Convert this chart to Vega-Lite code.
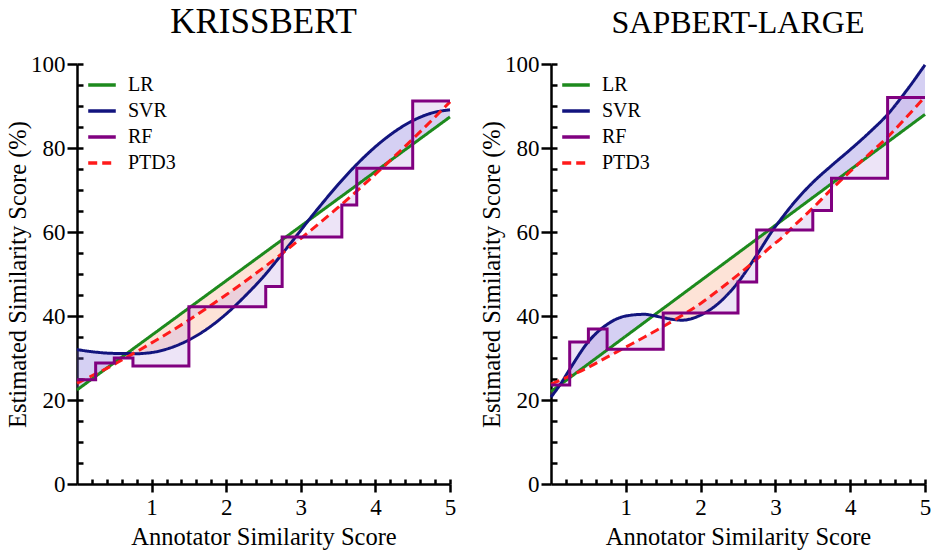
{
  "$schema": "https://vega.github.io/schema/vega-lite/v6.json",
  "description": "Estimated vs annotator similarity score for LR, SVR, RF and PTD3",
  "padding": 5,
  "datasets": {
    "smooth": [
      {"panel": "KRISSBERT", "x": 0, "LR": 22.4, "SVR": 32.0, "PTD3": 24.0},
      {"panel": "KRISSBERT", "x": 0.25, "LR": 25.65, "SVR": 31.4, "PTD3": 26.2},
      {"panel": "KRISSBERT", "x": 0.5, "LR": 28.9, "SVR": 31.1, "PTD3": 28.5},
      {"panel": "KRISSBERT", "x": 0.67, "LR": 31.1, "SVR": 31.1, "PTD3": 30.2},
      {"panel": "KRISSBERT", "x": 0.75, "LR": 32.15, "SVR": 31.0, "PTD3": 31.0},
      {"panel": "KRISSBERT", "x": 1.0, "LR": 35.4, "SVR": 31.3, "PTD3": 33.6},
      {"panel": "KRISSBERT", "x": 1.25, "LR": 38.65, "SVR": 32.4, "PTD3": 36.25},
      {"panel": "KRISSBERT", "x": 1.5, "LR": 41.9, "SVR": 34.3, "PTD3": 39.05},
      {"panel": "KRISSBERT", "x": 1.75, "LR": 45.15, "SVR": 37.0, "PTD3": 42.0},
      {"panel": "KRISSBERT", "x": 2.0, "LR": 48.4, "SVR": 40.5, "PTD3": 45.05},
      {"panel": "KRISSBERT", "x": 2.25, "LR": 51.65, "SVR": 44.7, "PTD3": 48.2},
      {"panel": "KRISSBERT", "x": 2.5, "LR": 54.9, "SVR": 49.4, "PTD3": 51.5},
      {"panel": "KRISSBERT", "x": 2.75, "LR": 58.15, "SVR": 54.8, "PTD3": 54.9},
      {"panel": "KRISSBERT", "x": 3.0, "LR": 61.4, "SVR": 60.4, "PTD3": 58.45},
      {"panel": "KRISSBERT", "x": 3.1, "LR": 62.7, "SVR": 62.7, "PTD3": 59.9},
      {"panel": "KRISSBERT", "x": 3.25, "LR": 64.65, "SVR": 66.0, "PTD3": 62.1},
      {"panel": "KRISSBERT", "x": 3.5, "LR": 67.9, "SVR": 71.3, "PTD3": 65.85},
      {"panel": "KRISSBERT", "x": 3.75, "LR": 71.15, "SVR": 76.1, "PTD3": 69.75},
      {"panel": "KRISSBERT", "x": 4.0, "LR": 74.4, "SVR": 80.3, "PTD3": 73.75},
      {"panel": "KRISSBERT", "x": 4.25, "LR": 77.65, "SVR": 83.8, "PTD3": 77.9},
      {"panel": "KRISSBERT", "x": 4.5, "LR": 80.9, "SVR": 86.5, "PTD3": 82.15},
      {"panel": "KRISSBERT", "x": 4.75, "LR": 84.15, "SVR": 88.3, "PTD3": 86.5},
      {"panel": "KRISSBERT", "x": 5.0, "LR": 87.4, "SVR": 89.1, "PTD3": 91.0},
      {"panel": "SapBERT-large", "x": 0, "LR": 22.0, "SVR": 20.7, "PTD3": 23.8},
      {"panel": "SapBERT-large", "x": 0.12, "LR": 23.6, "SVR": 23.6, "PTD3": 24.7},
      {"panel": "SapBERT-large", "x": 0.25, "LR": 25.3, "SVR": 27.3, "PTD3": 25.7},
      {"panel": "SapBERT-large", "x": 0.5, "LR": 28.6, "SVR": 33.9, "PTD3": 27.8},
      {"panel": "SapBERT-large", "x": 0.75, "LR": 31.9, "SVR": 38.0, "PTD3": 30.2},
      {"panel": "SapBERT-large", "x": 1.0, "LR": 35.2, "SVR": 40.0, "PTD3": 32.6},
      {"panel": "SapBERT-large", "x": 1.25, "LR": 38.5, "SVR": 40.4, "PTD3": 35.0},
      {"panel": "SapBERT-large", "x": 1.37, "LR": 40.1, "SVR": 40.1, "PTD3": 36.2},
      {"panel": "SapBERT-large", "x": 1.5, "LR": 41.8, "SVR": 39.6, "PTD3": 37.5},
      {"panel": "SapBERT-large", "x": 1.75, "LR": 45.1, "SVR": 39.0, "PTD3": 40.1},
      {"panel": "SapBERT-large", "x": 2.0, "LR": 48.4, "SVR": 40.2, "PTD3": 43.0},
      {"panel": "SapBERT-large", "x": 2.25, "LR": 51.7, "SVR": 43.2, "PTD3": 46.3},
      {"panel": "SapBERT-large", "x": 2.5, "LR": 55.0, "SVR": 48.0, "PTD3": 49.8},
      {"panel": "SapBERT-large", "x": 2.75, "LR": 58.3, "SVR": 54.5, "PTD3": 53.5},
      {"panel": "SapBERT-large", "x": 3.0, "LR": 61.6, "SVR": 61.3, "PTD3": 57.4},
      {"panel": "SapBERT-large", "x": 3.03, "LR": 62.0, "SVR": 62.0, "PTD3": 57.8},
      {"panel": "SapBERT-large", "x": 3.25, "LR": 64.9, "SVR": 67.0, "PTD3": 61.5},
      {"panel": "SapBERT-large", "x": 3.5, "LR": 68.2, "SVR": 71.8, "PTD3": 65.7},
      {"panel": "SapBERT-large", "x": 3.75, "LR": 71.5, "SVR": 75.8, "PTD3": 70.2},
      {"panel": "SapBERT-large", "x": 4.0, "LR": 74.8, "SVR": 79.6, "PTD3": 74.4},
      {"panel": "SapBERT-large", "x": 4.25, "LR": 78.1, "SVR": 83.6, "PTD3": 78.5},
      {"panel": "SapBERT-large", "x": 4.5, "LR": 81.4, "SVR": 88.0, "PTD3": 82.6},
      {"panel": "SapBERT-large", "x": 4.75, "LR": 84.7, "SVR": 93.6, "PTD3": 87.3},
      {"panel": "SapBERT-large", "x": 5.0, "LR": 88.0, "SVR": 99.8, "PTD3": 92.2}
    ],
    "rf": [
      {"panel": "KRISSBERT", "x": 0, "RF": 24.8, "PTD3": 24.0},
      {"panel": "KRISSBERT", "x": 0.25, "RF": 24.8, "PTD3": 26.2},
      {"panel": "KRISSBERT", "x": 0.25, "RF": 28.8, "PTD3": 26.2},
      {"panel": "KRISSBERT", "x": 0.5, "RF": 28.8, "PTD3": 28.5},
      {"panel": "KRISSBERT", "x": 0.5, "RF": 30.0, "PTD3": 28.5},
      {"panel": "KRISSBERT", "x": 0.75, "RF": 30.0, "PTD3": 31.0},
      {"panel": "KRISSBERT", "x": 0.75, "RF": 28.1, "PTD3": 31.0},
      {"panel": "KRISSBERT", "x": 1.125, "RF": 28.1, "PTD3": 34.9},
      {"panel": "KRISSBERT", "x": 1.5, "RF": 28.1, "PTD3": 39.05},
      {"panel": "KRISSBERT", "x": 1.5, "RF": 42.2, "PTD3": 39.05},
      {"panel": "KRISSBERT", "x": 2.0, "RF": 42.2, "PTD3": 45.05},
      {"panel": "KRISSBERT", "x": 2.53, "RF": 42.2, "PTD3": 51.9},
      {"panel": "KRISSBERT", "x": 2.53, "RF": 47.0, "PTD3": 51.9},
      {"panel": "KRISSBERT", "x": 2.75, "RF": 47.0, "PTD3": 54.9},
      {"panel": "KRISSBERT", "x": 2.75, "RF": 58.8, "PTD3": 54.9},
      {"panel": "KRISSBERT", "x": 3.15, "RF": 58.8, "PTD3": 60.6},
      {"panel": "KRISSBERT", "x": 3.55, "RF": 58.8, "PTD3": 66.6},
      {"panel": "KRISSBERT", "x": 3.55, "RF": 66.4, "PTD3": 66.6},
      {"panel": "KRISSBERT", "x": 3.75, "RF": 66.4, "PTD3": 69.75},
      {"panel": "KRISSBERT", "x": 3.75, "RF": 75.2, "PTD3": 69.75},
      {"panel": "KRISSBERT", "x": 4.125, "RF": 75.2, "PTD3": 75.8},
      {"panel": "KRISSBERT", "x": 4.5, "RF": 75.2, "PTD3": 82.15},
      {"panel": "KRISSBERT", "x": 4.5, "RF": 91.2, "PTD3": 82.15},
      {"panel": "KRISSBERT", "x": 4.75, "RF": 91.2, "PTD3": 86.5},
      {"panel": "KRISSBERT", "x": 5.0, "RF": 91.2, "PTD3": 91.0},
      {"panel": "SapBERT-large", "x": 0, "RF": 23.6, "PTD3": 23.8},
      {"panel": "SapBERT-large", "x": 0.25, "RF": 23.6, "PTD3": 25.7},
      {"panel": "SapBERT-large", "x": 0.25, "RF": 33.8, "PTD3": 25.7},
      {"panel": "SapBERT-large", "x": 0.5, "RF": 33.8, "PTD3": 27.8},
      {"panel": "SapBERT-large", "x": 0.5, "RF": 36.9, "PTD3": 27.8},
      {"panel": "SapBERT-large", "x": 0.75, "RF": 36.9, "PTD3": 30.2},
      {"panel": "SapBERT-large", "x": 0.75, "RF": 32.1, "PTD3": 30.2},
      {"panel": "SapBERT-large", "x": 1.125, "RF": 32.1, "PTD3": 33.8},
      {"panel": "SapBERT-large", "x": 1.5, "RF": 32.1, "PTD3": 37.5},
      {"panel": "SapBERT-large", "x": 1.5, "RF": 40.7, "PTD3": 37.5},
      {"panel": "SapBERT-large", "x": 2.0, "RF": 40.7, "PTD3": 43.0},
      {"panel": "SapBERT-large", "x": 2.5, "RF": 40.7, "PTD3": 49.8},
      {"panel": "SapBERT-large", "x": 2.5, "RF": 48.1, "PTD3": 49.8},
      {"panel": "SapBERT-large", "x": 2.75, "RF": 48.1, "PTD3": 53.5},
      {"panel": "SapBERT-large", "x": 2.75, "RF": 60.5, "PTD3": 53.5},
      {"panel": "SapBERT-large", "x": 3.125, "RF": 60.5, "PTD3": 59.4},
      {"panel": "SapBERT-large", "x": 3.5, "RF": 60.5, "PTD3": 65.7},
      {"panel": "SapBERT-large", "x": 3.5, "RF": 65.1, "PTD3": 65.7},
      {"panel": "SapBERT-large", "x": 3.75, "RF": 65.1, "PTD3": 70.2},
      {"panel": "SapBERT-large", "x": 3.75, "RF": 72.8, "PTD3": 70.2},
      {"panel": "SapBERT-large", "x": 4.125, "RF": 72.8, "PTD3": 76.4},
      {"panel": "SapBERT-large", "x": 4.5, "RF": 72.8, "PTD3": 82.6},
      {"panel": "SapBERT-large", "x": 4.5, "RF": 92.0, "PTD3": 82.6},
      {"panel": "SapBERT-large", "x": 4.75, "RF": 92.0, "PTD3": 87.3},
      {"panel": "SapBERT-large", "x": 5.0, "RF": 92.0, "PTD3": 92.2}
    ]
  },
  "spacing": 23,
  "hconcat": [
    {
      "width": 373,
      "height": 420,
      "title": {"text": "KRISSBERT", "fontSize": 35},
      "layer": [
        {
          "data": {"name": "smooth"},
          "transform": [{"filter": "datum.panel === 'KRISSBERT'"}, {"filter": "datum.SVR >= datum.LR"}],
          "mark": {"type": "area", "color": "#7565d6", "opacity": 0.3},
          "encoding": {
            "x": {
              "field": "x",
              "type": "quantitative",
              "title": "Annotator Similarity Score",
              "scale": {"domain": [0, 5]},
              "axis": {"values": [1, 2, 3, 4, 5], "format": "d", "tickSize": 8, "labelPadding": 4, "titlePadding": 6}
            },
            "y": {
              "field": "SVR",
              "type": "quantitative",
              "title": "Estimated Similarity Score (%)",
              "scale": {"domain": [0, 100]},
              "axis": {"values": [0, 20, 40, 60, 80, 100], "tickSize": 10, "labelPadding": 2, "titlePadding": 0}
            },
            "y2": {"field": "LR"}
          }
        },
        {
          "data": {"name": "smooth"},
          "transform": [{"filter": "datum.panel === 'KRISSBERT'"}, {"filter": "datum.SVR <= datum.LR"}],
          "mark": {"type": "area", "color": "#f7a27c", "opacity": 0.3},
          "encoding": {
            "x": {"field": "x", "type": "quantitative", "scale": {"domain": [0, 5]}, "axis": null},
            "y": {"field": "SVR", "type": "quantitative", "scale": {"domain": [0, 100]}, "axis": null},
            "y2": {"field": "LR"}
          }
        },
        {
          "data": {"name": "rf"},
          "transform": [{"filter": "datum.panel === 'KRISSBERT'"}],
          "mark": {"type": "area", "color": "#c2a4e6", "opacity": 0.3},
          "encoding": {
            "x": {
              "field": "x",
              "type": "quantitative",
              "scale": {"domain": [0, 5]},
              "axis": {"orient": "top", "offset": -420, "title": null, "labels": false, "domain": false, "tickSize": 5,
                "values": [0.2, 0.4, 0.6, 0.8, 1, 1.2, 1.4, 1.6, 1.8, 2, 2.2, 2.4, 2.6, 2.8, 3, 3.2, 3.4, 3.6, 3.8, 4, 4.2, 4.4, 4.6, 4.8, 5]}
            },
            "y": {
              "field": "RF",
              "type": "quantitative",
              "scale": {"domain": [0, 100]},
              "axis": {"orient": "right", "offset": -373, "title": null, "labels": false, "domain": false, "tickSize": 6,
                "values": [5, 10, 15, 20, 25, 30, 35, 40, 45, 50, 55, 60, 65, 70, 75, 80, 85, 90, 95, 100]}
            },
            "y2": {"field": "PTD3"}
          }
        },
        {
          "data": {"name": "smooth"},
          "transform": [{"filter": "datum.panel === 'KRISSBERT'"}, {"fold": ["LR", "SVR", "PTD3"], "as": ["model", "y"]}],
          "mark": {"type": "line", "strokeWidth": 3, "interpolate": "monotone"},
          "encoding": {
            "x": {"field": "x", "type": "quantitative", "scale": {"domain": [0, 5]}, "axis": null},
            "y": {"field": "y", "type": "quantitative", "scale": {"domain": [0, 100]}, "axis": null},
            "color": {
              "field": "model",
              "type": "nominal",
              "scale": {"domain": ["LR", "SVR", "RF", "PTD3"], "range": ["#1d8a1d", "#12147e", "#800080", "#ff1a1a"]},
              "legend": {"title": null, "orient": "none", "legendX": 9, "legendY": 5}
            },
            "strokeDash": {
              "field": "model",
              "type": "nominal",
              "scale": {"domain": ["LR", "SVR", "RF", "PTD3"], "range": [[1, 0], [1, 0], [1, 0], [9, 5]]},
              "legend": {"title": null, "orient": "none", "legendX": 9, "legendY": 5}
            }
          }
        },
        {
          "data": {"name": "rf"},
          "transform": [{"filter": "datum.panel === 'KRISSBERT'"}],
          "mark": {"type": "line", "strokeWidth": 3, "color": "#800080"},
          "encoding": {
            "x": {"field": "x", "type": "quantitative", "scale": {"domain": [0, 5]}, "axis": null},
            "y": {"field": "RF", "type": "quantitative", "scale": {"domain": [0, 100]}, "axis": null}
          }
        }
      ],
      "resolve": {"axis": {"x": "independent", "y": "independent"}}
    },
    {
      "width": 374,
      "height": 420,
      "title": {"text": "SAPBERT-LARGE", "fontSize": 32},
      "layer": [
        {
          "data": {"name": "smooth"},
          "transform": [{"filter": "datum.panel === 'SapBERT-large'"}, {"filter": "datum.SVR >= datum.LR"}],
          "mark": {"type": "area", "color": "#7565d6", "opacity": 0.3},
          "encoding": {
            "x": {
              "field": "x",
              "type": "quantitative",
              "title": "Annotator Similarity Score",
              "scale": {"domain": [0, 5]},
              "axis": {"values": [1, 2, 3, 4, 5], "format": "d", "tickSize": 8, "labelPadding": 4, "titlePadding": 6}
            },
            "y": {
              "field": "SVR",
              "type": "quantitative",
              "title": "Estimated Similarity Score (%)",
              "scale": {"domain": [0, 100]},
              "axis": {"values": [0, 20, 40, 60, 80, 100], "tickSize": 10, "labelPadding": 2, "titlePadding": 0}
            },
            "y2": {"field": "LR"}
          }
        },
        {
          "data": {"name": "smooth"},
          "transform": [{"filter": "datum.panel === 'SapBERT-large'"}, {"filter": "datum.SVR <= datum.LR"}],
          "mark": {"type": "area", "color": "#f7a27c", "opacity": 0.3},
          "encoding": {
            "x": {"field": "x", "type": "quantitative", "scale": {"domain": [0, 5]}, "axis": null},
            "y": {"field": "SVR", "type": "quantitative", "scale": {"domain": [0, 100]}, "axis": null},
            "y2": {"field": "LR"}
          }
        },
        {
          "data": {"name": "rf"},
          "transform": [{"filter": "datum.panel === 'SapBERT-large'"}],
          "mark": {"type": "area", "color": "#c2a4e6", "opacity": 0.3},
          "encoding": {
            "x": {
              "field": "x",
              "type": "quantitative",
              "scale": {"domain": [0, 5]},
              "axis": {"orient": "top", "offset": -420, "title": null, "labels": false, "domain": false, "tickSize": 5,
                "values": [0.2, 0.4, 0.6, 0.8, 1, 1.2, 1.4, 1.6, 1.8, 2, 2.2, 2.4, 2.6, 2.8, 3, 3.2, 3.4, 3.6, 3.8, 4, 4.2, 4.4, 4.6, 4.8, 5]}
            },
            "y": {
              "field": "RF",
              "type": "quantitative",
              "scale": {"domain": [0, 100]},
              "axis": {"orient": "right", "offset": -374, "title": null, "labels": false, "domain": false, "tickSize": 6,
                "values": [5, 10, 15, 20, 25, 30, 35, 40, 45, 50, 55, 60, 65, 70, 75, 80, 85, 90, 95, 100]}
            },
            "y2": {"field": "PTD3"}
          }
        },
        {
          "data": {"name": "smooth"},
          "transform": [{"filter": "datum.panel === 'SapBERT-large'"}, {"fold": ["LR", "SVR", "PTD3"], "as": ["model", "y"]}],
          "mark": {"type": "line", "strokeWidth": 3, "interpolate": "monotone"},
          "encoding": {
            "x": {"field": "x", "type": "quantitative", "scale": {"domain": [0, 5]}, "axis": null},
            "y": {"field": "y", "type": "quantitative", "scale": {"domain": [0, 100]}, "axis": null},
            "color": {
              "field": "model",
              "type": "nominal",
              "scale": {"domain": ["LR", "SVR", "RF", "PTD3"], "range": ["#1d8a1d", "#12147e", "#800080", "#ff1a1a"]},
              "legend": {"title": null, "orient": "none", "legendX": 9, "legendY": 5}
            },
            "strokeDash": {
              "field": "model",
              "type": "nominal",
              "scale": {"domain": ["LR", "SVR", "RF", "PTD3"], "range": [[1, 0], [1, 0], [1, 0], [9, 5]]},
              "legend": {"title": null, "orient": "none", "legendX": 9, "legendY": 5}
            }
          }
        },
        {
          "data": {"name": "rf"},
          "transform": [{"filter": "datum.panel === 'SapBERT-large'"}],
          "mark": {"type": "line", "strokeWidth": 3, "color": "#800080"},
          "encoding": {
            "x": {"field": "x", "type": "quantitative", "scale": {"domain": [0, 5]}, "axis": null},
            "y": {"field": "RF", "type": "quantitative", "scale": {"domain": [0, 100]}, "axis": null}
          }
        }
      ],
      "resolve": {"axis": {"x": "independent", "y": "independent"}}
    }
  ],
  "resolve": {
    "scale": {"color": "independent", "strokeDash": "independent"},
    "legend": {"color": "independent", "strokeDash": "independent"}
  },
  "config": {
    "view": {"stroke": null},
    "font": "Liberation Serif",
    "title": {"font": "Liberation Serif", "fontWeight": "normal", "color": "black", "frame": "group", "offset": 13},
    "axis": {
      "labelFont": "Liberation Serif",
      "titleFont": "Liberation Serif",
      "labelFontSize": 23,
      "titleFontSize": 24.5,
      "titleFontWeight": "normal",
      "labelColor": "black",
      "titleColor": "black",
      "domainColor": "black",
      "domainWidth": 2.5,
      "tickColor": "black",
      "tickWidth": 2.5,
      "grid": false,
      "labelFlush": false,
      "labelOverlap": false
    },
    "legend": {
      "padding": 0,
      "labelFont": "Liberation Serif",
      "labelFontSize": 20,
      "labelColor": "black",
      "labelOffset": 10,
      "symbolType": "stroke",
      "symbolSize": 760,
      "symbolStrokeWidth": 3.5,
      "rowPadding": 0
    }
  }
}
